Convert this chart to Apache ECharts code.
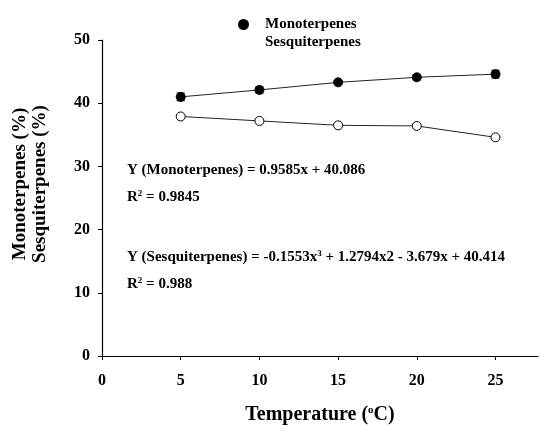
<!DOCTYPE html>
<html>
<head>
<meta charset="utf-8">
<script src="https://cdn.jsdelivr.net/npm/echarts@6/dist/echarts.min.js"></script>
<style>
  html, body { margin: 0; padding: 0; background: #fff; }
  #chart { width: 540px; height: 425px; }
</style>
</head>
<body>
<div id="chart"></div>
<script>
// data
const temperatures = [5, 10, 15, 20, 25];
const monoValues = [41.0, 42.1, 43.3, 44.1, 44.6];
const monoErrors = [0.6, 0.5, 0.3, 0.4, 0.6];
const sesquiValues = [37.9, 37.2, 36.5, 36.4, 34.6];
const sesquiErrors = [0.3, 0.2, 0.2, 0.3, 0.2];
const xTicks = [0, 5, 10, 15, 20, 25];
const yTicks = [0, 10, 20, 30, 40, 50];

const font = "Liberation Serif";
const chart = echarts.init(document.getElementById("chart"));

const pairs = (xs, ys) => xs.map((x, i) => [x, ys[i]]);
const errData = (ys, es) => temperatures.map((x, i) => [x, ys[i] - es[i], ys[i] + es[i]]);

const errorBars = (name, ys, es) => ({
  name: name + " err",
  type: "custom",
  data: errData(ys, es),
  z: 1,
  renderItem: (params, api) => {
    const lo = api.coord([api.value(0), api.value(1)]);
    const hi = api.coord([api.value(0), api.value(2)]);
    const w = 4;
    return {
      type: "group",
      children: [
        { type: "line", shape: { x1: lo[0], y1: lo[1], x2: hi[0], y2: hi[1] }, style: { stroke: "#000", lineWidth: 1.2 } },
        { type: "line", shape: { x1: lo[0] - w, y1: lo[1], x2: lo[0] + w, y2: lo[1] }, style: { stroke: "#000", lineWidth: 1.2 } },
        { type: "line", shape: { x1: hi[0] - w, y1: hi[1], x2: hi[0] + w, y2: hi[1] }, style: { stroke: "#000", lineWidth: 1.2 } },
      ],
    };
  },
});

const sup = { fontSize: 9, fontWeight: "bold", fontFamily: font, color: "#000", verticalAlign: "top", padding: [0, 0, 7, 0] };
const noteStyle = { fontSize: 15, fontWeight: "bold", fontFamily: font, fill: "#000" };
const note = (top, text) => ({
  type: "text",
  left: 127,
  top,
  style: { ...noteStyle, text, rich: { sup: { ...sup } } },
});

const option = {
  animation: false,
  grid: { left: 102, right: 2, top: 40, bottom: 69, outerBoundsMode: "none" },
  legend: {
    orient: "vertical",
    left: 233,
    top: 12,
    itemWidth: 9,
    itemHeight: 9,
    itemGap: 3,
    textStyle: { fontFamily: font, fontWeight: "bold", fontSize: 15, color: "#000", padding: [0, 0, 0, 12] },
    data: [
      { name: "Monoterpenes", icon: "circle", itemStyle: { color: "#000" } },
      { name: "Sesquiterpenes", icon: "circle", itemStyle: { opacity: 0 } },
    ],
  },
  xAxis: {
    type: "value",
    min: 0,
    max: 27.7,
    name: "Temperature ({sup|o}C)",
    nameLocation: "middle",
    nameGap: 49,
    nameTextStyle: {
      fontFamily: font, fontWeight: "bold", fontSize: 20, color: "#000",
      rich: { sup: { fontSize: 11, fontWeight: "bold", fontFamily: font, color: "#000", verticalAlign: "top", padding: [0, 0, 9, 0] } },
    },
    axisLine: { onZero: false, lineStyle: { color: "#000", width: 1.2 } },
    axisTick: { customValues: xTicks, length: 4, inside: false, lineStyle: { color: "#000" } },
    axisLabel: { customValues: xTicks, margin: 17, fontFamily: font, fontWeight: "bold", fontSize: 16, color: "#000" },
    splitLine: { show: false },
  },
  yAxis: {
    type: "value",
    min: 0,
    max: 50,
    interval: 10,
    name: "Monoterpenes (%)\nSesquiterpenes (%)",
    nameLocation: "middle",
    nameGap: 52,
    nameRotate: 90,
    nameTextStyle: { fontFamily: font, fontWeight: "bold", fontSize: 19, color: "#000", lineHeight: 20, padding: [0, 0, 0, 28] },
    axisLine: { show: true, onZero: false, lineStyle: { color: "#000", width: 1.2 } },
    axisTick: { show: true, length: 4, lineStyle: { color: "#000" } },
    axisLabel: { customValues: yTicks, margin: 12, fontFamily: font, fontWeight: "bold", fontSize: 16, color: "#000" },
    splitLine: { show: false },
  },
  series: [
    errorBars("Monoterpenes", monoValues, monoErrors),
    errorBars("Sesquiterpenes", sesquiValues, sesquiErrors),
    {
      name: "Monoterpenes",
      type: "line",
      data: pairs(temperatures, monoValues),
      symbol: "circle",
      symbolSize: 9,
      z: 3,
      lineStyle: { color: "#222", width: 1 },
      itemStyle: { color: "#000", borderColor: "#000", borderWidth: 1 },
    },
    {
      name: "Sesquiterpenes",
      type: "line",
      data: pairs(temperatures, sesquiValues),
      symbol: "circle",
      symbolSize: 9,
      z: 3,
      lineStyle: { color: "#222", width: 1 },
      itemStyle: { color: "#fff", borderColor: "#000", borderWidth: 1 },
    },
  ],
  graphic: [
    note(163, "Y (Monoterpenes) = 0.9585x + 40.086"),
    note(189, "R{sup|2} = 0.9845"),
    note(249, "Y (Sesquiterpenes) = -0.1553x{sup|3} + 1.2794x2 - 3.679x + 40.414"),
    note(276, "R{sup|2} = 0.988"),
  ],
};

chart.setOption(option);
</script>
</body>
</html>
